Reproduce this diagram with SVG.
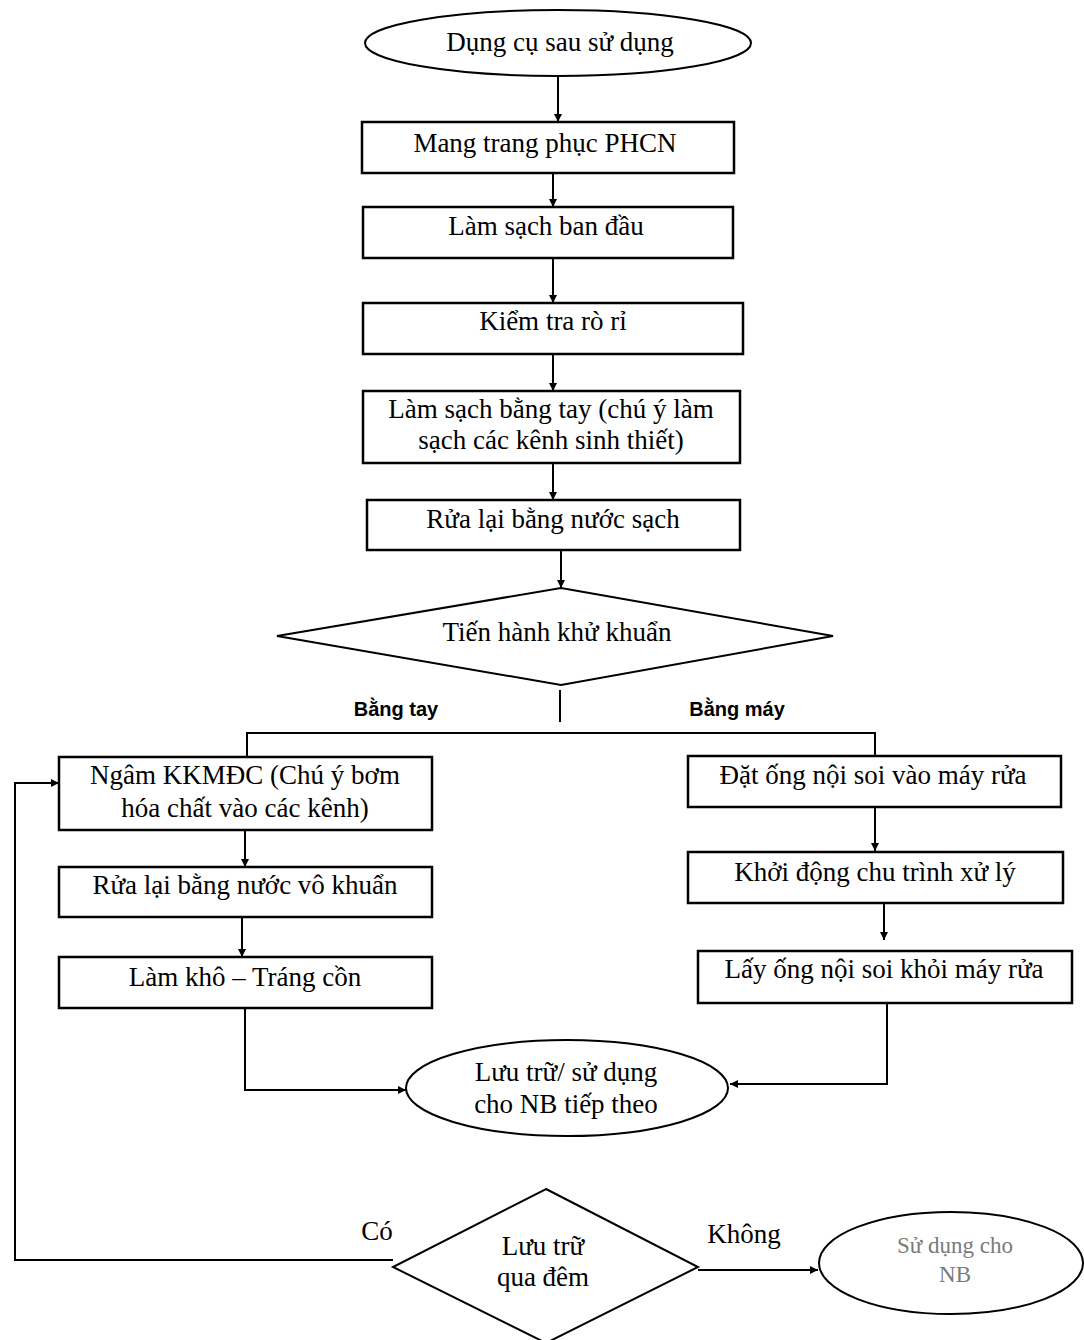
<svg xmlns="http://www.w3.org/2000/svg" width="1084" height="1340" viewBox="0 0 1084 1340">
<defs>
<marker id="ah" viewBox="0 0 10 10" refX="10" refY="5" markerWidth="8" markerHeight="8" markerUnits="userSpaceOnUse" orient="auto">
<path d="M0,0 L10,5 L0,10 z" fill="#000"/>
</marker>
<style>
.box{fill:#fff;stroke:#000;stroke-width:2.5}
.shape{fill:#fff;stroke:#000;stroke-width:2}
.t{font-family:"Liberation Serif","Times New Roman",serif;font-size:27px;fill:#000;text-anchor:middle}
.g{font-family:"Liberation Serif","Times New Roman",serif;font-size:23px;fill:#7a7a7a;text-anchor:middle}
.b{font-family:"Liberation Sans",Arial,sans-serif;font-size:20px;font-weight:bold;fill:#000;text-anchor:middle}
.c{fill:none;stroke:#000;stroke-width:2}
.ca{fill:none;stroke:#000;stroke-width:2;marker-end:url(#ah)}
</style>
</defs>
<rect width="1084" height="1340" fill="#fff"/>
<g id="connectors">
<line class="ca" x1="558" y1="76" x2="558" y2="122"/>
<line class="ca" x1="553" y1="173" x2="553" y2="207"/>
<line class="ca" x1="553" y1="258" x2="553" y2="303"/>
<line class="ca" x1="553" y1="354" x2="553" y2="391"/>
<line class="ca" x1="553" y1="463" x2="553" y2="500"/>
<line class="ca" x1="561" y1="550" x2="561" y2="588"/>
<line class="c" x1="560" y1="690" x2="560" y2="722"/>
<polyline class="c" points="247,757 247,733 875,733 875,756"/>
<line class="ca" x1="245" y1="830" x2="245" y2="867"/>
<line class="ca" x1="242" y1="917" x2="242" y2="957"/>
<polyline class="ca" points="245,1008 245,1090 406,1090"/>
<line class="ca" x1="875" y1="807" x2="875" y2="851"/>
<line class="ca" x1="884" y1="903" x2="884" y2="940"/>
<polyline class="ca" points="887,1003 887,1084 730,1084"/>
<polyline class="ca" points="393,1260 15,1260 15,783 59,783"/>
<line class="ca" x1="698" y1="1270" x2="818" y2="1270"/>
<text class="b" x="396" y="716">Bằng tay</text>
<text class="b" x="737" y="716">Bằng máy</text>
<text class="t" x="377" y="1240">Có</text>
<text class="t" x="744" y="1243">Không</text>
</g>
<g id="n-start">
<ellipse class="shape" cx="558" cy="43" rx="193" ry="33"/>
<text class="t" x="560" y="51">Dụng cụ sau sử dụng</text>
</g>
<g id="n-mang">
<rect class="box" x="362" y="122" width="372" height="51"/>
<text class="t" x="545" y="152">Mang trang phục PHCN</text>
</g>
<g id="n-lamsach">
<rect class="box" x="363" y="207" width="370" height="51"/>
<text class="t" x="546" y="235">Làm sạch ban đầu</text>
</g>
<g id="n-kiemtra">
<rect class="box" x="363" y="303" width="380" height="51"/>
<text class="t" x="553" y="330">Kiểm tra rò rỉ</text>
</g>
<g id="n-lamsachtay">
<rect class="box" x="363" y="391" width="377" height="72"/>
<text class="t" x="551" y="418">Làm sạch bằng tay (chú ý làm</text>
<text class="t" x="551" y="449">sạch các kênh sinh thiết)</text>
</g>
<g id="n-rua">
<rect class="box" x="367" y="500" width="373" height="50"/>
<text class="t" x="553" y="528">Rửa lại bằng nước sạch</text>
</g>
<g id="n-khukhuan">
<polygon class="shape" points="561,588 833,636 561,685 277,636"/>
<text class="t" x="557" y="641">Tiến hành khử khuẩn</text>
</g>
<g id="n-ngam">
<rect class="box" x="59" y="757" width="373" height="73"/>
<text class="t" x="245" y="784">Ngâm KKMĐC (Chú ý bơm</text>
<text class="t" x="245" y="817">hóa chất vào các kênh)</text>
</g>
<g id="n-ruavokhuan">
<rect class="box" x="59" y="867" width="373" height="50"/>
<text class="t" x="245" y="894">Rửa lại bằng nước vô khuẩn</text>
</g>
<g id="n-lamkho">
<rect class="box" x="59" y="957" width="373" height="51"/>
<text class="t" x="245" y="986">Làm khô – Tráng cồn</text>
</g>
<g id="n-dat">
<rect class="box" x="688" y="756" width="373" height="51"/>
<text class="t" x="873" y="784">Đặt ống nội soi vào máy rửa</text>
</g>
<g id="n-khoidong">
<rect class="box" x="688" y="852" width="375" height="51"/>
<text class="t" x="875" y="881">Khởi động chu trình xử lý</text>
</g>
<g id="n-lay">
<rect class="box" x="698" y="951" width="374" height="52"/>
<text class="t" x="884" y="978">Lấy ống nội soi khỏi máy rửa</text>
</g>
<g id="n-luutru">
<ellipse class="shape" cx="567" cy="1088" rx="161" ry="48"/>
<text class="t" x="566" y="1081">Lưu trữ/ sử dụng</text>
<text class="t" x="566" y="1113">cho NB tiếp theo</text>
</g>
<g id="n-qua-dem">
<polygon class="shape" points="546,1189 698,1267 546,1343 393,1267"/>
<text class="t" x="543" y="1255">Lưu trữ</text>
<text class="t" x="543" y="1286">qua đêm</text>
</g>
<g id="n-sudung">
<ellipse class="shape" cx="951" cy="1263" rx="132" ry="51"/>
<text class="g" x="955" y="1253">Sử dụng cho</text>
<text class="g" x="955" y="1282">NB</text>
</g>
</svg>
